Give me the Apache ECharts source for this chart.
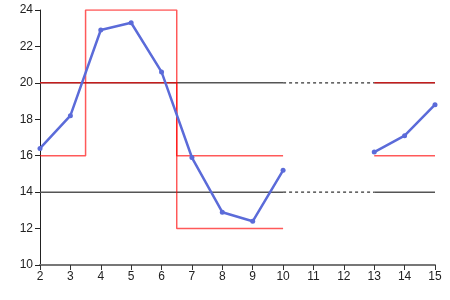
<!DOCTYPE html>
<html><head><meta charset="utf-8">
<script src="https://cdn.jsdelivr.net/npm/echarts@6/dist/echarts.min.js"></script>
<style>html,body{margin:0;padding:0;background:#fff}#c{width:450px;height:300px}</style>
</head><body><div id="c"></div>
<script>
var xs = [2,3,4,5,6,7,8,9,10,11,12,13,14,15];
var values = [16.4,18.2,22.9,23.3,20.6,15.9,12.9,12.4,15.2,null,null,16.2,17.1,18.8];
// control limit steps (x where limits change, limit values)
var limitX = [2,3.5,3.5,6.5,6.5,10,null,13,15];
var upperLimit = [20,20,24,24,16,16,null,20,20];
var lowerLimit = [16,16,20,20,12,12,null,16,16];
// reference lines
var refX = [2,10,null,13,15];
var refHigh = [20,20,null,20,20];
var refLow = [14,14,null,14,14];
var gapX = [10,13];
var gapHigh = [20,20];
var gapLow = [14,14];

function pairs(xa, ya){ return xa.map(function(x,i){ return x===null ? [null,null] : [x, ya[i]]; }); }

var chart = echarts.init(document.getElementById('c'));
var axisText = {color:'#222', fontSize:12, fontFamily:'Liberation Sans, Arial, sans-serif'};
chart.setOption({
  animation:false,
  grid:{left:40,right:15,top:10,bottom:35},
  xAxis:{type:'value',min:2,max:15,interval:1,
    axisLine:{lineStyle:{color:'#777',width:2}},
    axisTick:{length:5,lineStyle:{color:'#333'}},
    axisLabel:Object.assign({margin:6},axisText),
    splitLine:{show:false}},
  yAxis:{type:'value',min:10,max:24,interval:2,
    axisLine:{show:true,lineStyle:{color:'#222',width:1}},
    axisTick:{show:true,length:5,lineStyle:{color:'#222'}},
    axisLabel:Object.assign({margin:7},axisText),
    splitLine:{show:false}},
  series:[
    {type:'line',data:pairs(refX,refHigh),symbol:'none',silent:true,
      lineStyle:{color:'#555',width:1.5},z:1},
    {type:'line',data:pairs(refX,refLow),symbol:'none',silent:true,
      lineStyle:{color:'#555',width:1.5},z:1},
    {type:'line',data:pairs(gapX,gapHigh),symbol:'none',silent:true,
      lineStyle:{color:'#555',width:1.5,type:[3,3]},z:1},
    {type:'line',data:pairs(gapX,gapLow),symbol:'none',silent:true,
      lineStyle:{color:'#555',width:1.5,type:[3,3]},z:1},
    {type:'line',data:pairs(limitX,upperLimit),symbol:'none',silent:true,
      lineStyle:{color:'rgba(255,0,0,0.65)',width:1.5},z:2},
    {type:'line',data:pairs(limitX,lowerLimit),symbol:'none',silent:true,
      lineStyle:{color:'rgba(255,0,0,0.65)',width:1.5},z:2},
    {type:'line',data:pairs(xs,values),symbol:'circle',symbolSize:5,
      itemStyle:{color:'#5b6bd9'},lineStyle:{color:'#5b6bd9',width:2.5},z:3}
  ]
});
</script></body></html>
